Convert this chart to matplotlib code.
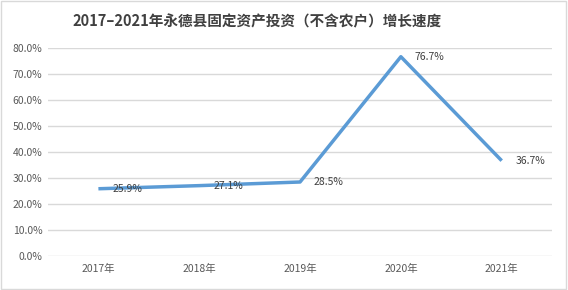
import matplotlib.pyplot as plt
from matplotlib.patches import Rectangle
from matplotlib.ticker import FuncFormatter

plt.rcParams['font.family'] = ['Noto Sans CJK SC', 'DejaVu Sans']

years = ["2017年", "2018年", "2019年", "2020年", "2021年"]
growth = [25.9, 27.1, 28.5, 76.7, 36.7]
y_ticks = [0, 10, 20, 30, 40, 50, 60, 70, 80]

fig = plt.figure(figsize=(5.68, 2.90), dpi=100)
fig.patches.append(Rectangle((0.002, 0.003), 0.995, 0.994, transform=fig.transFigure,
                             fill=False, edgecolor="#d9d9d9", linewidth=1))
ax = fig.add_axes([0.0845, 0.117, 0.8875, 0.717])

x = list(range(len(years)))
ax.plot(x, growth, color="#5b9bd5", linewidth=2.5, solid_capstyle="butt", zorder=3)

# data labels sit just right of each point
for xi, v in zip(x, growth):
    ax.annotate(f"{v:.1f}%", (xi, v), xytext=(10, 0), textcoords="offset points",
                ha="left", va="center", fontsize=7.5, color="#404040", zorder=4)

ax.set_xlim(-0.5, len(years) - 0.5)
ax.set_ylim(0, 80)
ax.set_yticks(y_ticks)
ax.yaxis.set_major_formatter(FuncFormatter(lambda v, p: f"{v:.1f}%"))
ax.set_xticks(x)
ax.set_xticklabels(years)
ax.tick_params(axis="both", length=0, labelsize=7.5, labelcolor="#595959")
ax.tick_params(axis="x", pad=6)
ax.tick_params(axis="y", pad=4)
ax.grid(axis="y", color="#d9d9d9", linewidth=1)
ax.set_axisbelow(True)
for s in ax.spines.values():
    s.set_visible(False)

fig.text(0.452, 0.925, "2017–2021年永德县固定资产投资（不含农户）增长速度",
         ha="center", va="center", fontsize=10.5, fontweight="bold", color="#404040")

fig.savefig("out.png", dpi=100)
